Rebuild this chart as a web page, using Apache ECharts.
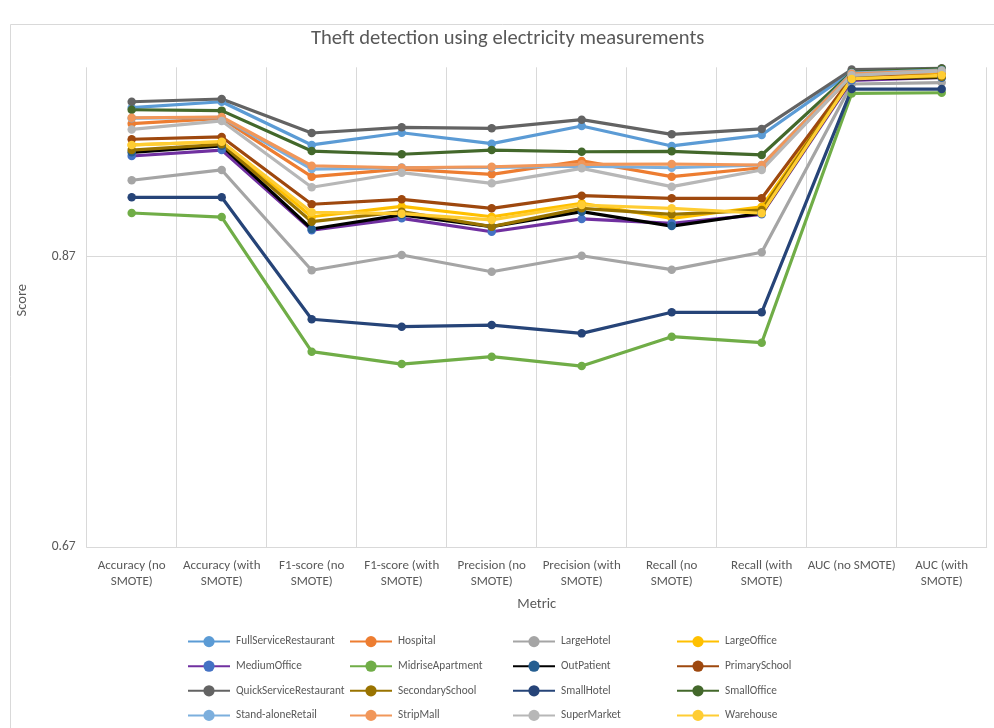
<!DOCTYPE html>
<html>
<head>
<meta charset="utf-8">
<title>Theft detection using electricity measurements</title>
<script src="https://cdn.jsdelivr.net/npm/echarts@6/dist/echarts.min.js"></script>
<style>
  html, body { margin: 0; padding: 0; background: #ffffff; }
  #chart { width: 994px; height: 728px; }
</style>
</head>
<body>
<div id="chart"></div>
<script>
// Metric categories (x axis)
const metrics = [
  'Accuracy (no\nSMOTE)', 'Accuracy (with\nSMOTE)',
  'F1-score (no\nSMOTE)', 'F1-score (with\nSMOTE)',
  'Precision (no\nSMOTE)', 'Precision (with\nSMOTE)',
  'Recall (no\nSMOTE)', 'Recall (with\nSMOTE)',
  'AUC (no SMOTE)', 'AUC (with\nSMOTE)'
];

// Score per building type, one value per metric
const fullServiceRestaurant = [0.9722, 0.9763, 0.9466, 0.9550, 0.9475, 0.9596, 0.9459, 0.9534, 0.9970, 0.9980];
const hospital              = [0.9612, 0.9649, 0.9248, 0.9300, 0.9264, 0.9356, 0.9248, 0.9309, 0.9940, 0.9965];
const largeHotel            = [0.9223, 0.9294, 0.8604, 0.8709, 0.8594, 0.8704, 0.8608, 0.8728, 0.9885, 0.9895];
const largeOffice           = [0.9466, 0.9488, 0.8972, 0.9043, 0.8972, 0.9065, 0.8961, 0.9041, 0.9925, 0.9950];
const mediumOffice          = [0.9390, 0.9431, 0.8880, 0.8961, 0.8869, 0.8957, 0.8927, 0.8989, 0.9910, 0.9930];
const midriseApartment      = [0.8998, 0.8970, 0.8044, 0.7959, 0.8010, 0.7945, 0.8147, 0.8106, 0.9820, 0.9825];
const outPatient            = [0.9415, 0.9460, 0.8888, 0.8985, 0.8904, 0.9007, 0.8908, 0.8996, 0.9920, 0.9930];
const primarySchool         = [0.9505, 0.9521, 0.9058, 0.9092, 0.9030, 0.9117, 0.9099, 0.9099, 0.9930, 0.9945];
const quickServiceRest      = [0.9763, 0.9782, 0.9548, 0.9587, 0.9580, 0.9640, 0.9539, 0.9576, 0.9985, 0.9993];
const secondarySchool       = [0.9431, 0.9470, 0.8938, 0.9007, 0.8904, 0.9030, 0.8989, 0.9018, 0.9925, 0.9935];
const smallHotel            = [0.9106, 0.9106, 0.8267, 0.8216, 0.8227, 0.8170, 0.8315, 0.8315, 0.9850, 0.9850];
const smallOffice           = [0.9708, 0.9702, 0.9424, 0.9402, 0.9431, 0.9419, 0.9422, 0.9397, 0.9965, 0.9990];
const standAloneRetail      = [0.9650, 0.9655, 0.9300, 0.9310, 0.9312, 0.9320, 0.9309, 0.9328, 0.9960, 0.9980];
const stripMall             = [0.9653, 0.9658, 0.9323, 0.9309, 0.9316, 0.9333, 0.9335, 0.9328, 0.9955, 0.9975];
const superMarket           = [0.9573, 0.9631, 0.9175, 0.9275, 0.9202, 0.9305, 0.9179, 0.9294, 0.9945, 0.9975];
const warehouse             = [0.9466, 0.9488, 0.9003, 0.8993, 0.8950, 0.9053, 0.9030, 0.8996, 0.9920, 0.9945];

// Y axis range and tick step
const yMin = 0.67;
const yMax = 1.0;
const yStep = 0.2;

// name, values, line colour, marker colour
const buildings = [
  ['FullServiceRestaurant', fullServiceRestaurant, '#5B9BD5', '#5B9BD5'],
  ['Hospital', hospital, '#ED7D31', '#ED7D31'],
  ['LargeHotel', largeHotel, '#A5A5A5', '#A5A5A5'],
  ['LargeOffice', largeOffice, '#FFC000', '#FFC000'],
  ['MediumOffice', mediumOffice, '#7030A0', '#4472C4'],
  ['MidriseApartment', midriseApartment, '#70AD47', '#70AD47'],
  ['OutPatient', outPatient, '#000000', '#255E91'],
  ['PrimarySchool', primarySchool, '#9E480E', '#9E480E'],
  ['QuickServiceRestaurant', quickServiceRest, '#636363', '#636363'],
  ['SecondarySchool', secondarySchool, '#997300', '#997300'],
  ['SmallHotel', smallHotel, '#264478', '#264478'],
  ['SmallOffice', smallOffice, '#43682B', '#43682B'],
  ['Stand-aloneRetail', standAloneRetail, '#7CAFDD', '#7CAFDD'],
  ['StripMall', stripMall, '#F1975A', '#F1975A'],
  ['SuperMarket', superMarket, '#B7B7B7', '#B7B7B7'],
  ['Warehouse', warehouse, '#FFCD33', '#FFCD33']
];

const FONT = "Carlito, 'Liberation Sans Narrow', 'Open Sans', 'Liberation Sans', sans-serif";
const TEXT = '#595959';
const GRID = '#D9D9D9';

const series = buildings.map(([name, values, line, marker]) => ({
  name: name,
  type: 'line',
  data: values,
  symbol: 'circle',
  symbolSize: 8.5,
  showSymbol: true,
  lineStyle: { color: line, width: 3.2 },
  itemStyle: { color: marker },
  emphasis: { disabled: true }
}));

// Legend laid out as four columns of four entries
const columnLeft = [187, 349, 512, 676];
const legends = columnLeft.map((left, c) => ({
  orient: 'vertical',
  left: left,
  top: 636,
  padding: 0,
  itemWidth: 42,
  itemHeight: 14,
  itemGap: 13.4,
  selectedMode: false,
  textStyle: { fontFamily: FONT, fontSize: 11.3, color: TEXT, padding: [0, 0, 0, 1] },
  data: [0, 1, 2, 3].map(r => buildings[r * 4 + c][0])
}));

const chart = echarts.init(document.getElementById('chart'), null, { renderer: 'canvas' });
chart.setOption({
  backgroundColor: '#ffffff',
  animation: false,
  title: {
    text: 'Theft detection using electricity measurements',
    left: 311,
    top: 28,
    padding: 0,
    textStyle: { fontFamily: FONT, fontSize: 20.6, fontWeight: 'normal', color: TEXT }
  },
  legend: legends,
  grid: { left: 86.7, right: 7.3, top: 67.3, bottom: 180.9, containLabel: false },
  xAxis: {
    type: 'category',
    data: metrics,
    boundaryGap: true,
    name: 'Metric',
    nameLocation: 'middle',
    nameGap: 50,
    nameTextStyle: { fontFamily: FONT, fontSize: 14.5, color: TEXT },
    axisLine: { show: true, lineStyle: { color: GRID, width: 1 } },
    axisTick: { show: false },
    axisLabel: { interval: 0, margin: 11, lineHeight: 16, fontFamily: FONT, fontSize: 13, color: TEXT },
    splitLine: { show: true, interval: 0, lineStyle: { color: GRID, width: 1 } }
  },
  yAxis: {
    type: 'value',
    min: yMin,
    max: yMax,
    interval: yStep,
    name: 'Score',
    nameLocation: 'middle',
    nameGap: 57,
    nameTextStyle: { fontFamily: FONT, fontSize: 14.5, color: TEXT, padding: [0, 0, 0, 14] },
    axisLine: { show: false },
    axisTick: { show: false },
    axisLabel: {
      margin: 11,
      fontFamily: FONT,
      fontSize: 13.5,
      color: TEXT,
      showMaxLabel: false,
      formatter: v => v.toFixed(2)
    },
    splitLine: { show: true, showMaxLine: false, lineStyle: { color: GRID, width: 1 } }
  },
  graphic: [{
    type: 'rect',
    silent: true,
    z: -1,
    shape: { x: 10.5, y: 24.5, width: 1000, height: 720 },
    style: { fill: 'none', stroke: GRID, lineWidth: 1 }
  }],
  series: series
});
</script>
</body>
</html>
